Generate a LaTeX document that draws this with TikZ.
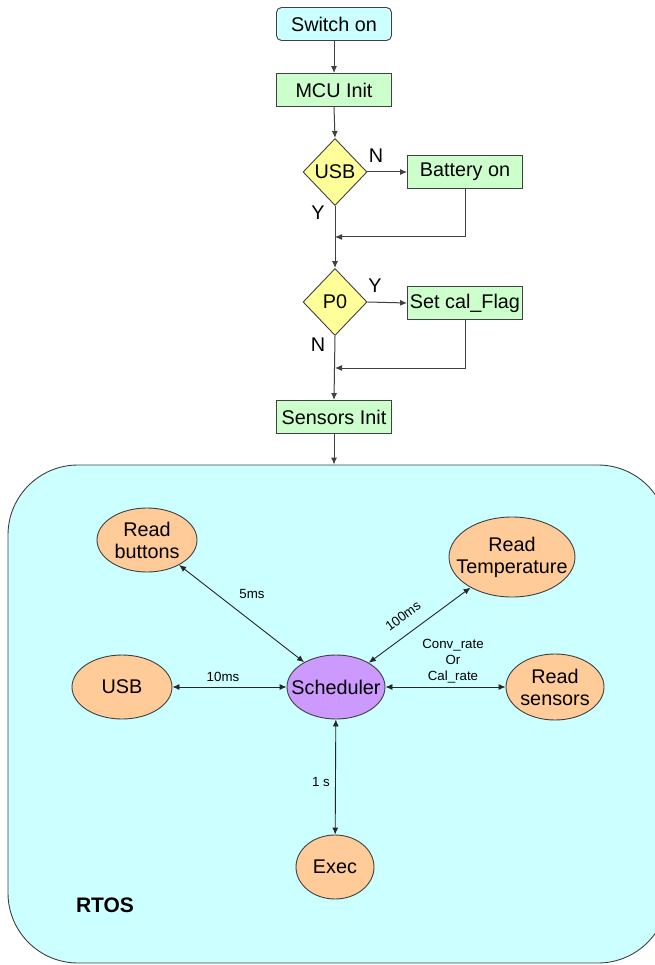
\documentclass[tikz,border=0pt]{standalone}
\usepackage{fontspec}
\setmainfont{Liberation Sans}
\usetikzlibrary{shapes.geometric,arrows.meta,calc}
\definecolor{cyanfill}{HTML}{CCFFFF}
\definecolor{greenfill}{HTML}{CCFFCC}
\definecolor{yellowfill}{HTML}{FFFF99}
\definecolor{orangefill}{HTML}{FFCC99}
\definecolor{purplefill}{HTML}{CC99FF}
\definecolor{linecol}{HTML}{404040}
\tikzset{
  bigtxt/.style={font=\fontsize{19.8}{22}\selectfont},
  smalltxt/.style={font=\fontsize{13.3}{15}\selectfont, inner sep=1pt},
  procbox/.style={draw=linecol, line width=0.9pt, fill=greenfill, bigtxt, minimum width=115pt, minimum height=33pt, inner sep=1pt},
  startbox/.style={procbox, fill=cyanfill, rounded corners=5pt},
  decision/.style={diamond, draw=linecol, line width=0.9pt, fill=yellowfill, bigtxt, minimum width=64pt, minimum height=67pt, inner sep=0pt, aspect=1},
  task/.style={ellipse, draw=linecol, line width=0.9pt, fill=orangefill, inner sep=0pt},
  tasktext/.style={bigtxt, align=center, inner sep=0pt},
  flow/.style={draw=linecol, line width=1pt, -{Latex[length=7pt,width=6pt]}},
  link/.style={draw=black!85, line width=0.9pt, {Latex[length=7pt,width=6pt]}-{Latex[length=7pt,width=6pt]}},
  yn/.style={bigtxt, inner sep=0pt}
}
\begin{document}
\begin{tikzpicture}[x=1pt,y=-1pt]
\useasboundingbox (0,0) rectangle (654,965);
% RTOS area
\node[draw=linecol, line width=0.9pt, fill=cyanfill, rounded corners=70pt, minimum width=660pt, minimum height=498pt, inner sep=0pt] (rtos) at (338,714) {};
\node[font=\bfseries\fontsize{21}{24}\selectfont, inner sep=0pt] (rtoslbl) at (105,905) {RTOS};

% flowchart
\node[startbox] (sw) at (334,24) {Switch on};
\node[procbox] (mcu) at (334,90) {MCU Init};
\node[decision] (usbd) at (335,172) {USB};
\node[procbox] (bat) at (465,172) {Battery on};
\coordinate (m1) at (335,237);
\node[decision] (p0) at (335,302) {P0};
\node[procbox] (cal) at (465,303) {Set cal\_Flag};
\coordinate (m2) at (335,368);
\node[procbox] (sens) at (334,417) {Sensors Init};

\node[yn] (n1) at (376,156) {N};
\node[yn] (y1) at (318,213) {Y};
\node[yn] (y2) at (375,286) {Y};
\node[yn] (n2) at (318,345) {N};

\draw[flow] (sw) -- (mcu);
\draw[flow] (mcu.south) -- (usbd.north);
\draw[flow] (usbd.east) -- (bat.west);
\draw[flow] (usbd.south) -- (p0.north);
\draw[flow] (bat.south) |- (m1);
\draw[flow] (p0.east) -- (cal.west);
\draw[flow] (p0.south) -- (sens.north);
\draw[flow] (cal.south) |- (m2);
\draw[flow] (sens.south) -- (sens.south |- rtos.north);

% RTOS tasks
\node[task, fill=purplefill, minimum width=98pt, minimum height=64pt, label={[tasktext]center:Scheduler}] (sch) at (336,687) {};
\node[task, minimum width=100pt, minimum height=64pt, label={[tasktext]center:Read\\buttons}] (btn) at (147,540) {};
\node[task, minimum width=126pt, minimum height=80pt, label={[tasktext]center:Read\\Temperature}] (temp) at (512,557) {};
\node[task, minimum width=100pt, minimum height=64pt, label={[tasktext]center:USB}] (usb) at (122,687) {};
\node[task, minimum width=98pt, minimum height=66pt, label={[tasktext]center:Read\\sensors}] (rs) at (555,687) {};
\node[task, minimum width=78pt, minimum height=64pt, label={[tasktext]center:Exec}] (exec) at (335,867) {};

\draw[link] (btn) -- (sch);
\draw[link] (temp) -- (sch);
\draw[link] (usb) -- (sch);
\draw[link] (sch) -- (rs);
\draw[link] (sch) -- (exec);

\node[smalltxt] (l5) at (252,594) {5ms};
\node[smalltxt, rotate=36] (l100) at (403,616) {100ms};
\node[smalltxt] (l10) at (223,677) {10ms};
\node[smalltxt, align=center, font=\fontsize{13.3}{16}\selectfont] (lconv) at (453,661) {Conv\_rate\\Or\\Cal\_rate};
\node[smalltxt] (l1) at (321,782) {1 s};
\end{tikzpicture}
\end{document}
